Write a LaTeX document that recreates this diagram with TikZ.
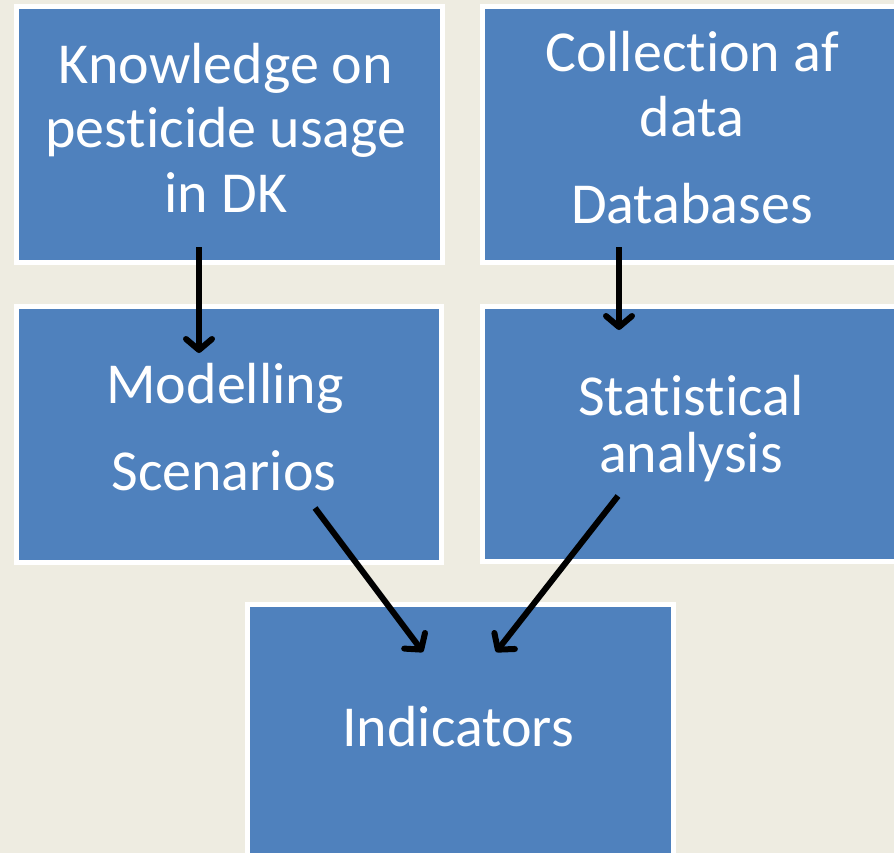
\documentclass[tikz,border=0pt]{standalone}
\usepackage{fontspec}
\setmainfont{Carlito}[Ligatures=NoCommon]
\usetikzlibrary{arrows.meta}
\definecolor{bgtan}{HTML}{EEECE1}
\definecolor{boxblue}{HTML}{4F81BD}
\tikzset{
  panel/.style={draw=white, line width=5pt, fill=boxblue, rectangle, inner sep=0pt, anchor=north west},
  label/.style={text=white, anchor=base, inner sep=0pt, font=\fontsize{58}{64}\selectfont},
  flow/.style={line width=6pt, -{Straight Barb[length=11pt,width=26pt,round]}, black}
}
\begin{document}
\begin{tikzpicture}[x=1pt,y=-1pt]
\useasboundingbox (0,0) rectangle (894,853);
\fill[bgtan] (0,0) rectangle (894,853);
\clip (0,0) rectangle (894,853);
% boxes
\node[panel, minimum width=426pt, minimum height=256pt] (know) at (13.5,4) {};
\node[panel, minimum width=426pt, minimum height=256pt] (coll) at (479.5,4) {};
\node[panel, minimum width=425pt, minimum height=255.5pt] (model) at (13.5,304) {};
\node[panel, minimum width=426pt, minimum height=255pt] (stat) at (479.5,304) {};
\node[panel, minimum width=425.5pt, minimum height=300pt] (ind) at (245,601.5) {};
% texts
\node[label] (k1) at (226,84) {Knowledge on};
\node[label] (k2) at (226,148) {pesticide usage};
\node[label] (k3) at (226,213) {in DK};
\node[label] (c1) at (692,72) {Collection af};
\node[label] (c2) at (692,137) {data};
\node[label] (c3) at (692,224) {Databases};
\node[label] (m1) at (225,403) {Modelling};
\node[label] (m2) at (224,490) {Scenarios};
\node[label] (s1) at (691,415) {Statistical};
\node[label] (s2) at (691,472) {analysis};
\node[label] (i1) at (458,746) {Indicators};
% arrow end points
\coordinate (a1s) at (199,247);
\coordinate (a1e) at (199,353);
\coordinate (a2s) at (619,247);
\coordinate (a2e) at (619,330);
\coordinate (a3s) at (315,508);
\coordinate (a3e) at (423,652);
\coordinate (a4s) at (618,496);
\coordinate (a4e) at (496,652);
\draw[flow] (a1s) -- (a1e);
\draw[flow] (a2s) -- (a2e);
\draw[flow] (a3s) -- (a3e);
\draw[flow] (a4s) -- (a4e);
\end{tikzpicture}
\end{document}
